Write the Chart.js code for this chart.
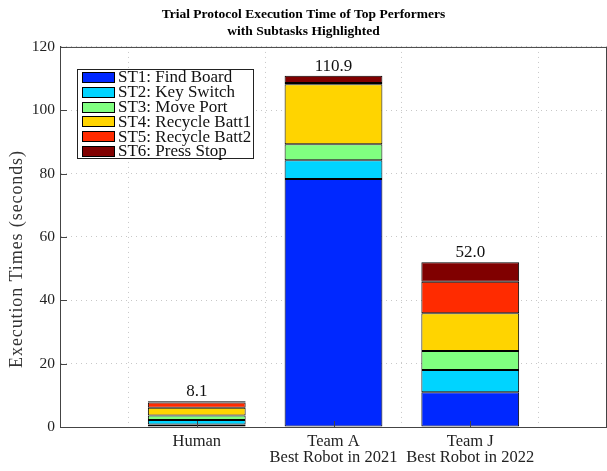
<!DOCTYPE html>
<html>
<head>
<meta charset="utf-8">
<script src="https://cdn.jsdelivr.net/npm/chart.js@4.4.1/dist/chart.umd.min.js"></script>
<style>
  html, body { margin: 0; padding: 0; background: #fff; }
</style>
</head>
<body>
<canvas id="times" width="607" height="471"></canvas>
<script>
// data
const categories = ['Human', 'Team A', 'Team J'];
const subtitles = ['', 'Best Robot in 2021', 'Best Robot in 2022'];
const subtasks = ['ST1: Find Board', 'ST2: Key Switch', 'ST3: Move Port',
                  'ST4: Recycle Batt1', 'ST5: Recycle Batt2', 'ST6: Press Stop'];
const st1 = [0.8, 78.3, 11.0];
const st2 = [1.4, 5.9, 7.0];
const st3 = [1.4, 5.1, 6.0];
const st4 = [2.5, 18.9, 11.9];
const st5 = [1.6, 0.4, 10.0];
const st6 = [0.4, 2.3, 6.1];
const yTicks = [0, 20, 40, 60, 80, 100, 120];

const colors = ['rgb(0,40,255)', 'rgb(0,212,255)', 'rgb(128,255,128)',
                'rgb(255,212,0)', 'rgb(255,43,0)', 'rgb(128,0,0)'];
const serif = '"Liberation Serif", "Times New Roman", serif';

// empty slot on each side so the bars sit at 1..3 of a 0..4 axis
const labels = [''].concat(categories.map((c, i) => subtitles[i] ? [c, subtitles[i]] : c), ['']);
const pad = arr => [null].concat(arr, [null]);

const series = [st1, st2, st3, st4, st5, st6];
const datasets = series.map((s, i) => ({
  label: subtasks[i],
  data: pad(s),
  backgroundColor: colors[i],
  borderColor: '#000',
  borderWidth: 1,
  borderSkipped: false,
  barPercentage: 0.715,
  categoryPercentage: 1
}));

const decor = {
  id: 'decor',
  afterDatasetsDraw(chart) {
    const {ctx, scales: {x, y}} = chart;
    ctx.save();
    ctx.font = '17px ' + serif;
    ctx.fillStyle = '#111';
    ctx.textAlign = 'center';
    ctx.textBaseline = 'alphabetic';
    categories.forEach((c, i) => {
      const total = series.reduce((t, s) => t + s[i], 0);
      ctx.fillText(total.toFixed(1), x.getPixelForValue(i + 1), y.getPixelForValue(total) - 5);
    });
    ctx.restore();
  },
  afterDraw(chart) {
    const {ctx, chartArea: a, scales: {x, y}} = chart;
    ctx.save();
    // frame top / right and small inward ticks
    ctx.strokeStyle = '#444';
    ctx.lineWidth = 1;
    ctx.beginPath();
    ctx.moveTo(a.left, a.top + 0.5); ctx.lineTo(a.right, a.top + 0.5);
    ctx.moveTo(a.right - 0.5, a.top); ctx.lineTo(a.right - 0.5, a.bottom);
    yTicks.forEach(v => {
      const py = Math.round(y.getPixelForValue(v)) + 0.5;
      ctx.moveTo(a.left, py); ctx.lineTo(a.left + 7, py);
    });
    categories.forEach((c, i) => {
      const px = Math.round(x.getPixelForValue(i + 1)) + 0.5;
      ctx.moveTo(px, a.bottom); ctx.lineTo(px, a.bottom - 6);
    });
    ctx.stroke();

    // y axis title
    ctx.save();
    ctx.translate(17, 259);
    ctx.rotate(-Math.PI / 2);
    ctx.font = '18px ' + serif;
    ctx.letterSpacing = '0.9px';
    ctx.fillStyle = '#333';
    ctx.textAlign = 'center';
    ctx.textBaseline = 'middle';
    ctx.fillText('Execution Times (seconds)', 0, 0);
    ctx.restore();

    // legend box
    const lx = 77.5, ly = 69.5, lw = 176, lh = 89;
    ctx.fillStyle = '#fff';
    ctx.fillRect(lx, ly, lw, lh);
    ctx.strokeStyle = '#222';
    ctx.strokeRect(lx, ly, lw, lh);
    ctx.font = '17px ' + serif;
    ctx.textAlign = 'left';
    ctx.textBaseline = 'middle';
    chart.data.datasets.forEach((ds, i) => {
      const cy = 77 + i * 14.8;
      ctx.fillStyle = ds.backgroundColor;
      ctx.fillRect(82, Math.round(cy - 5), 32, 10);
      ctx.strokeStyle = '#000';
      ctx.strokeRect(82.5, Math.round(cy - 5) + 0.5, 32, 10);
      ctx.fillStyle = '#111';
      ctx.fillText(ds.label, 118, cy + 1);
    });
    ctx.restore();
  }
};

new Chart(document.getElementById('times'), {
  type: 'bar',
  data: { labels: labels, datasets: datasets },
  options: {
    responsive: false,
    animation: false,
    layout: { padding: 0 },
    plugins: {
      legend: { display: false },
      tooltip: { enabled: false },
      title: {
        display: true,
        text: ['Trial Protocol Execution Time of Top Performers', 'with Subtasks Highlighted'],
        color: '#000',
        font: { family: serif, size: 13.5, weight: 'bold', lineHeight: 1.25 },
        padding: { top: 6, bottom: 7.2 }
      }
    },
    scales: {
      x: {
        stacked: true,
        offset: false,
        grid: { color: '#c8c8c8', drawTicks: false },
        border: { color: '#444', width: 1, dash: [1, 4] },
        ticks: { color: '#222', autoSkip: false, maxRotation: 0, padding: 6.5,
                 font: { family: serif, size: 16.5, lineHeight: 0.99 } },
        afterFit: s => { s.height = 44; s.paddingLeft = 0; s.paddingRight = 0; }
      },
      y: {
        stacked: true,
        min: 0,
        max: 120,
        grid: { color: '#c8c8c8', drawTicks: false },
        border: { color: '#444', width: 1, dash: [1, 4] },
        ticks: { stepSize: 20, color: '#222', padding: 5,
                 font: { family: serif, size: 15.5 } },
        afterFit: s => { s.width = 60; }
      }
    }
  },
  plugins: [decor]
});
</script>
</body>
</html>
